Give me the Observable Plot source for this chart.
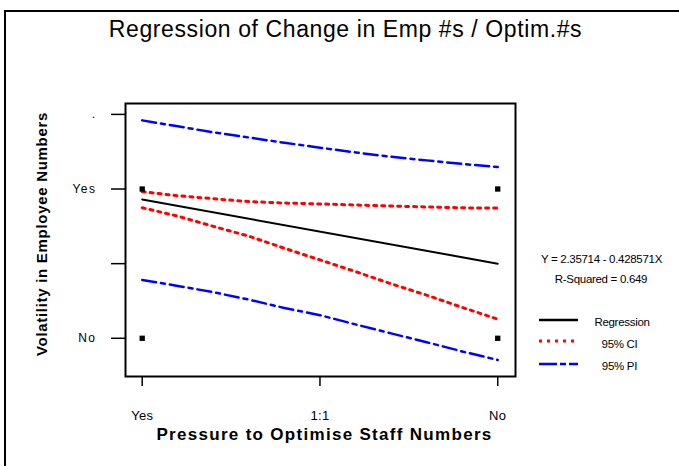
<!DOCTYPE html>
<html>
<head>
<meta charset="utf-8">
<script src="https://cdn.jsdelivr.net/npm/d3@7"></script>
<script src="https://cdn.jsdelivr.net/npm/@observablehq/plot@0.6"></script>
<style>
  html, body { margin: 0; padding: 0; background: #fff; overflow: hidden; }
  #wrap { position: relative; width: 679px; height: 466px; overflow: hidden; font-family: Arial, "Liberation Sans", sans-serif; }
  #border { position: absolute; left: 4px; top: 10px; width: 900px; height: 700px; border: 2px solid #000; }
  #chart { position: absolute; left: 0; top: 0; }
  .lg { position: absolute; font-size: 11.5px; line-height: 13px; color: #000; text-align: center; white-space: nowrap; letter-spacing: -0.3px; }
  svg g[aria-label="y-axis tick label"] text { letter-spacing: 1.5px; }
  svg g[aria-label="x-axis tick label"] text { letter-spacing: 0.3px; }
  svg .t-title text { letter-spacing: 0.6px; }
  svg .t-xtitle text { letter-spacing: 1.3px; }
  svg .t-ytitle text { letter-spacing: 0.7px; }
</style>
</head>
<body>
<div id="wrap">
  <div id="border"></div>
  <div id="chart"></div>
  <div id="legend"></div>
</div>
<script>
// ---- data ----
const xTickVals = [1, 1.5, 2];
const xTickLabels = ["Yes", "1:1", "No"];
const yTickVals = [1, 1.5, 2, 2.5];
const yTickLabels = ["No", "", "Yes", "."];

const gridX   = [1.0, 1.1, 1.2, 1.3, 1.4, 1.5, 1.6, 1.7, 1.8, 1.9, 2.0];
const ciUpper = [1.982, 1.955, 1.935, 1.916, 1.906, 1.900, 1.893, 1.886, 1.880, 1.874, 1.872];
const ciLower = [1.875, 1.818, 1.750, 1.684, 1.603, 1.525, 1.447, 1.365, 1.289, 1.207, 1.128];
const piUpper = [2.460, 2.420, 2.380, 2.345, 2.310, 2.277, 2.245, 2.216, 2.192, 2.168, 2.147];
const piLower = [1.391, 1.351, 1.309, 1.259, 1.203, 1.155, 1.093, 1.033, 0.974, 0.912, 0.855];

const regX = [1, 2];
const regY = [1.93, 1.50];

const obsX = [1, 1, 2, 2];
const obsY = [2, 1, 2, 1];

const titleText = "Regression of Change in Emp #s / Optim.#s";
const xTitle = "Pressure to Optimise Staff Numbers";
const yTitle = "Volatility in Employee Numbers";
const equationText = "Y = 2.35714 - 0.428571X";
const rsqText = "R-Squared = 0.649";
const legendNames = ["Regression", "95% CI", "95% PI"];

// ---- build tables ----
const series = (ys) => gridX.map((x, i) => ({x, y: ys[i]}));
const regRows = regX.map((x, i) => ({x, y: regY[i]}));
const obsRows = obsX.map((x, i) => ({x, y: obsY[i]}));
const xLab = new Map(xTickVals.map((v, i) => [v, xTickLabels[i]]));
const yLab = new Map(yTickVals.map((v, i) => [v, yTickLabels[i]]));

const RED = "#ff0000", BLUE = "#0000ff";

const chart = Plot.plot({
  width: 679,
  height: 466,
  marginLeft: 125,
  marginRight: 164,
  marginTop: 103,
  marginBottom: 90,
  style: {fontFamily: "Arial, 'Liberation Sans', sans-serif", fontSize: "12px", background: "transparent", color: "#000", overflow: "visible"},
  x: {domain: [0.953, 2.05]},
  y: {domain: [0.744, 2.573]},
  marks: [
    Plot.line(series(piUpper), {x: "x", y: "y", stroke: BLUE, strokeWidth: 2.5, strokeDasharray: "14,5,4,5"}),
    Plot.line(series(piLower), {x: "x", y: "y", stroke: BLUE, strokeWidth: 2.5, strokeDasharray: "14,5,4,5"}),
    Plot.line(series(ciUpper), {x: "x", y: "y", stroke: RED, strokeWidth: 3, strokeDasharray: "3,5"}),
    Plot.line(series(ciLower), {x: "x", y: "y", stroke: RED, strokeWidth: 3, strokeDasharray: "3,5"}),
    Plot.line(regRows, {x: "x", y: "y", stroke: "#000", strokeWidth: 2}),
    Plot.dot(obsRows, {x: "x", y: "y", symbol: "square", r: 3, fill: "#000", stroke: "none"}),
    Plot.frame({stroke: "#000", strokeWidth: 2}),
    Plot.axisX(xTickVals, {tickFormat: d => xLab.get(d), tickSize: 10, tickPadding: 24, fontSize: 13, strokeWidth: 1.5, label: null}),
    Plot.axisY(yTickVals, {tickFormat: d => yLab.get(d), tickSize: 14, tickPadding: 15, fontSize: 12, strokeWidth: 1.5, label: null}),
    Plot.text([titleText], {frameAnchor: "top", dx: 25, dy: -74, fontSize: 23, lineAnchor: "middle", className: "t-title"}),
    Plot.text([xTitle], {frameAnchor: "bottom", dx: 4, dy: 58, fontSize: 17, fontWeight: "bold", lineAnchor: "middle", className: "t-xtitle"}),
    Plot.text([yTitle], {frameAnchor: "left", textAnchor: "middle", dx: -83, dy: -6, rotate: -90, fontSize: 15, fontWeight: "bold", lineAnchor: "middle", className: "t-ytitle"})
  ]
});
document.getElementById("chart").appendChild(chart);

// ---- legend (HTML) ----
const lg = document.getElementById("legend");
function addText(txt, cx, cy) {
  const d = document.createElement("div");
  d.className = "lg";
  d.textContent = txt;
  d.style.left = (cx - 80) + "px";
  d.style.width = "160px";
  d.style.top = (cy - 6.5) + "px";
  lg.appendChild(d);
}
addText(equationText, 601.5, 259);
addText(rsqText, 601, 279);
const styles = [
  {stroke: "#000", w: 2.5, dash: null},
  {stroke: RED, w: 3, dash: "3,5"},
  {stroke: BLUE, w: 2.5, dash: "18,3,6,3"}
];
const rowY = [319.5, 341, 363.5];
const labelX = [622, 619.5, 619.5];
styles.forEach((s, i) => {
  const svg = d3.create("svg").attr("width", 42).attr("height", 8)
    .style("position", "absolute").style("left", "538px").style("top", (rowY[i] - 4) + "px");
  const ln = svg.append("line").attr("x1", 1).attr("x2", 40).attr("y1", 4).attr("y2", 4)
    .attr("stroke", s.stroke).attr("stroke-width", s.w);
  if (s.dash) ln.attr("stroke-dasharray", s.dash);
  lg.appendChild(svg.node());
  addText(legendNames[i], labelX[i], rowY[i] + 3);
});
</script>
</body>
</html>
